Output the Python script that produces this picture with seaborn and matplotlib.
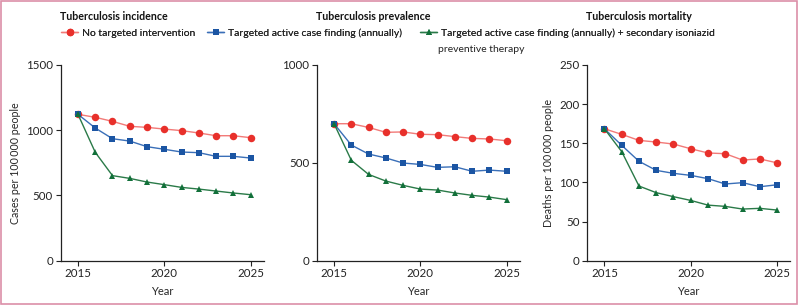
import numpy as np
import pandas as pd
import matplotlib
matplotlib.use("Agg")
import matplotlib.pyplot as plt
import seaborn as sns
from matplotlib.patches import Rectangle

years = list(range(2015, 2026))

# incidence, cases per 100 000
inc_none = [1122, 1099, 1068, 1030, 1022, 1009, 997, 979, 958, 958, 943]
inc_acf = [1122, 1017, 935, 917, 874, 854, 833, 828, 800, 800, 787]
inc_acf_ipt = [1122, 831, 652, 631, 603, 583, 562, 549, 534, 519, 506]

# prevalence, cases per 100 000
prev_none = [700, 700, 681, 656, 658, 646, 644, 634, 625, 622, 613]
prev_acf = [700, 591, 545, 525, 499, 492, 477, 480, 457, 463, 457]
prev_acf_ipt = [700, 513, 441, 407, 385, 366, 361, 346, 334, 325, 312]

# mortality, deaths per 100 000
mort_none = [168.5, 161.4, 153.7, 151.6, 149, 143, 137.6, 136.7, 128.6, 130, 125]
mort_acf = [168.5, 147.4, 127, 115.4, 111.6, 109, 104.8, 98, 99.7, 94.5, 97]
mort_acf_ipt = [168.5, 139.3, 95.4, 86.9, 81.8, 77, 71, 69.4, 66, 66.9, 64.7]

titles = ["Tuberculosis incidence", "Tuberculosis prevalence", "Tuberculosis mortality"]
ylabels = ["Cases per 100\u2009000 people", "", "Deaths per 100\u2009000 people"]
yticks = [[0, 500, 1000, 1500], [0, 500, 1000], [0, 50, 100, 150, 200, 250]]
labels = ["No targeted intervention",
          "Targeted active case finding (annually)",
          "Targeted active case finding (annually) + secondary isoniazid"]

panels = [(inc_none, inc_acf, inc_acf_ipt),
          (prev_none, prev_acf, prev_acf_ipt),
          (mort_none, mort_acf, mort_acf_ipt)]

sns.set_style("ticks")
plt.rcParams["font.family"] = ["Lato", "DejaVu Sans"]
plt.rcParams["font.size"] = 8

styles = [
    dict(marker="o", color="#f27a78", markerfacecolor="#e8302b", markersize=5.4),
    dict(marker="s", color="#3a6fb8", markerfacecolor="#1b55a3", markersize=4.5),
    dict(marker="^", color="#2a7a48", markerfacecolor="#12703a", markersize=4.6),
]

fig = plt.figure(figsize=(8, 3.05), dpi=100)
lefts = [0.0759, 0.396, 0.734]
axes = []
for i, (series, left) in enumerate(zip(panels, lefts)):
    ax = fig.add_axes([left, 0.1452, 0.2535, 0.6417])
    axes.append(ax)
    for vals, st in zip(series, styles):
        df = pd.DataFrame({"year": years, "value": vals})
        sns.lineplot(data=df, x="year", y="value", ax=ax, linewidth=1,
                     markeredgewidth=0, **st)
    ax.set_xlim(2014, 2025.75)
    ax.set_ylim(yticks[i][0], yticks[i][-1])
    ax.set_xticks([2015, 2020, 2025])
    ax.set_yticks(yticks[i])
    ax.set_xlabel("Year", fontsize=8, labelpad=5)
    ax.set_ylabel(ylabels[i], fontsize=7.7, labelpad=4)
    ax.tick_params(direction="out", length=3.5, width=0.8, labelsize=8.3,
                   colors="#222222", pad=2)
    for s in ["left", "bottom"]:
        ax.spines[s].set_linewidth(0.9)
        ax.spines[s].set_color("#222222")
    sns.despine(ax=ax)
    fig.text(left - 0.001, 1 - 16 / 305, titles[i], fontsize=7.7, fontweight="bold",
             ha="left", va="center", color="#111111")

handles = axes[0].lines[:3]
xs = [61 / 800, 207 / 800, 420 / 800]
for h, lab, x in zip(handles, labels, xs):
    leg = fig.legend([h], [lab], loc="center left", bbox_to_anchor=(x, 1 - 33 / 305),
                     frameon=False, borderpad=0, borderaxespad=0, handlelength=1.65,
                     handletextpad=0.4, fontsize=7.5)
    fig.add_artist(leg)

fig.text(437.7 / 800, 1 - 49 / 305, "preventive therapy", fontsize=7.5,
         ha="left", va="center", color="#222222")

fig.patches.append(Rectangle((0.0012, 0.002), 0.995, 0.995, transform=fig.transFigure,
                             fill=False, edgecolor="#dc8fa8", linewidth=1.2))

fig.savefig("out.png", dpi=100)
